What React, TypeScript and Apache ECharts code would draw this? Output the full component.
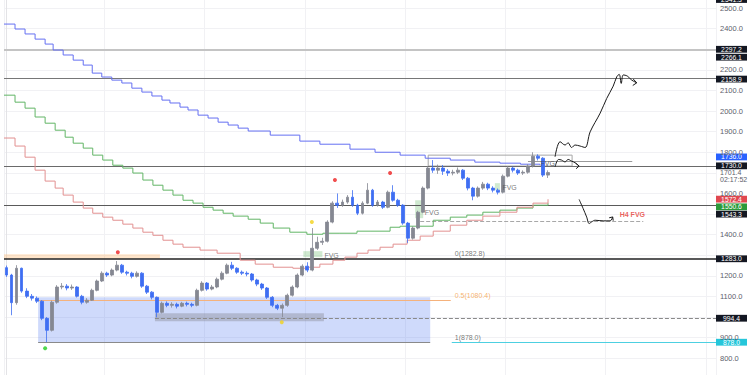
import React, { useEffect, useRef } from 'react';
import * as echarts from 'echarts';

// ---------- DATA ----------
// candles: [open, close, low, high]
const candles: number[][] = [
  [1240, 1204, 1195, 1250], [1204, 1070, 1009, 1210], [1070, 1237, 1060, 1252], [1237, 1126, 1118, 1240],
  [1126, 1101, 1092, 1140], [1101, 1092, 1080, 1112], [1092, 1077, 1068, 1100], [1077, 994, 985, 1082],
  [994, 936, 878, 1000], [936, 1072, 930, 1080], [1072, 1146, 1065, 1155], [1146, 1150, 1135, 1165],
  [1150, 1141, 1130, 1160], [1141, 1146, 1132, 1158], [1146, 1101, 1095, 1150], [1101, 1072, 1062, 1108],
  [1072, 1082, 1065, 1092], [1082, 1130, 1078, 1138], [1130, 1175, 1125, 1182], [1175, 1213, 1170, 1222],
  [1213, 1204, 1195, 1220], [1204, 1228, 1198, 1236], [1228, 1252, 1222, 1272], [1252, 1218, 1210, 1258],
  [1218, 1213, 1202, 1225], [1213, 1198, 1188, 1220], [1198, 1213, 1192, 1222], [1213, 1150, 1142, 1218],
  [1150, 1121, 1112, 1156], [1121, 1096, 1086, 1126], [1096, 1023, 999, 1100], [1023, 1067, 1018, 1075],
  [1067, 1057, 1048, 1076], [1057, 1062, 1046, 1072], [1062, 1053, 1042, 1070], [1053, 1067, 1048, 1074],
  [1067, 1062, 1052, 1075], [1062, 1057, 1048, 1070], [1057, 1130, 1052, 1138], [1130, 1165, 1124, 1174],
  [1165, 1136, 1128, 1170], [1136, 1146, 1130, 1156], [1146, 1184, 1140, 1192], [1184, 1213, 1178, 1222],
  [1213, 1252, 1208, 1260], [1252, 1237, 1228, 1268], [1237, 1218, 1210, 1242], [1218, 1213, 1204, 1226],
  [1213, 1209, 1198, 1222], [1209, 1180, 1172, 1214], [1180, 1160, 1150, 1186], [1160, 1141, 1132, 1166],
  [1141, 1096, 1088, 1146], [1096, 1057, 1048, 1102], [1057, 1043, 1034, 1064], [1043, 1057, 1000, 1066],
  [1057, 1106, 1050, 1114], [1106, 1146, 1100, 1154], [1146, 1204, 1140, 1212], [1204, 1247, 1198, 1256],
  [1247, 1228, 1218, 1266], [1228, 1334, 1222, 1432], [1334, 1363, 1326, 1390], [1363, 1368, 1350, 1385],
  [1368, 1461, 1362, 1470], [1461, 1553, 1455, 1562], [1553, 1543, 1530, 1600], [1543, 1558, 1535, 1570],
  [1558, 1582, 1550, 1592], [1582, 1543, 1535, 1616], [1543, 1504, 1495, 1550], [1504, 1553, 1498, 1562],
  [1553, 1616, 1548, 1650], [1616, 1543, 1535, 1622], [1543, 1558, 1536, 1568], [1558, 1533, 1525, 1564],
  [1533, 1606, 1528, 1614], [1606, 1567, 1560, 1640], [1567, 1543, 1535, 1574], [1543, 1456, 1448, 1548],
  [1456, 1383, 1360, 1462], [1383, 1432, 1376, 1440], [1432, 1509, 1426, 1516], [1509, 1626, 1504, 1634],
  [1626, 1723, 1620, 1732], [1723, 1713, 1700, 1762], [1713, 1723, 1695, 1740], [1723, 1708, 1690, 1738],
  [1708, 1699, 1685, 1718], [1699, 1703, 1688, 1715], [1703, 1713, 1694, 1726], [1713, 1674, 1665, 1718],
  [1674, 1626, 1615, 1680], [1626, 1587, 1567, 1632], [1587, 1626, 1580, 1634], [1626, 1645, 1618, 1656],
  [1645, 1626, 1616, 1652], [1626, 1616, 1605, 1635], [1616, 1606, 1595, 1624], [1606, 1684, 1600, 1692],
  [1684, 1723, 1678, 1732], [1723, 1713, 1702, 1730], [1713, 1699, 1690, 1720], [1699, 1703, 1690, 1712],
  [1703, 1733, 1696, 1742], [1733, 1781, 1726, 1800], [1781, 1771, 1760, 1790], [1771, 1689, 1680, 1776],
  [1689, 1701.4, 1675, 1712],
];

const TOTAL_SLOTS = 142;
const barSlots = Array.from({ length: TOTAL_SLOTS }, (_, i) => String(i));

// moving averages: [bar index, price]
const blueEma: number[][] = [
  [-0.5, 2422], [1.7, 2398], [3.7, 2374], [5.7, 2349], [7.7, 2325], [9.3, 2296], [11.3, 2272], [13.3, 2247],
  [15.3, 2223], [17.1, 2184], [19.0, 2165], [21.0, 2150], [23.0, 2136], [25.0, 2111], [27.0, 2092], [29.0, 2073],
  [31.0, 2053], [32.6, 2039], [34.6, 2019], [36.2, 2005], [38.2, 1980], [40.2, 1966], [42.2, 1946], [44.2, 1932],
  [46.2, 1917], [48.2, 1903], [52.6, 1883], [58.5, 1854], [62.5, 1839], [68.5, 1815], [73.5, 1800], [78.5, 1786],
  [83.5, 1771], [88.5, 1762], [93.4, 1752], [98.4, 1747], [102.5, 1742], [106.4, 1737],
];
const greenEma: number[][] = [
  [-0.5, 2077], [1.7, 2043], [3.7, 2014], [5.7, 1971], [7.7, 1941], [9.7, 1907], [11.7, 1873], [13.3, 1844],
  [15.3, 1820], [17.2, 1786], [19.2, 1762], [21.2, 1737], [23.2, 1723], [25.2, 1699], [27.2, 1665], [29.2, 1640],
  [31.2, 1616], [33.2, 1592], [35.2, 1567], [37.2, 1553], [39.2, 1533], [41.2, 1519], [43.2, 1504], [45.2, 1490],
  [48.2, 1475], [50.6, 1456], [53.2, 1432], [56.5, 1412], [59.9, 1402], [63.1, 1407], [66.5, 1407], [69.9, 1417],
  [72.5, 1417], [76.5, 1436], [78.5, 1441], [85.1, 1470], [88.5, 1485], [91.8, 1495], [95.0, 1509], [98.4, 1519],
  [101.8, 1529], [105.0, 1543], [108.0, 1553],
];
const redEma: number[][] = [
  [-0.5, 1869], [1.7, 1830], [3.7, 1776], [5.7, 1713], [7.7, 1660], [9.7, 1626], [11.3, 1592], [13.3, 1558],
  [15.3, 1529], [17.2, 1504], [19.2, 1485], [21.2, 1470], [23.2, 1451], [25.2, 1432], [27.2, 1412], [29.2, 1397],
  [31.2, 1373], [33.2, 1354], [35.2, 1339], [38.6, 1325], [42.0, 1310], [46.6, 1276], [49.6, 1257], [53.2, 1242],
  [57.1, 1237], [59.9, 1242], [62.5, 1257], [65.1, 1276], [67.5, 1291], [69.9, 1310], [72.1, 1325], [74.5, 1339],
  [77.1, 1354], [79.9, 1373], [82.5, 1393], [85.1, 1417], [88.5, 1446], [91.8, 1470], [95.0, 1490], [98.4, 1509],
  [101.8, 1533], [105.0, 1553], [108.0, 1572],
];

// full-width horizontal levels
const levelValues = [2297.2, 2158.9, 1730.0, 1543.3, 1283.0];
const levelColors = ['#c4c4c4', '#777777', '#6a6a6a', '#5a5a5a', '#222222'];
const levelWidths = [2, 1, 1, 1, 1.5];

// partial horizontal segments: [fromBar, toBar, price]
const segments: number[][] = [
  [29.6, 141.5, 994.4],
  [88.8, 141.5, 878.0],
  [6.3, 84.5, 878.0],
  [6.3, 88.6, 1080.4],
  [82.5, 127.0, 1465],
  [104.0, 124.8, 1758],
];
const segmentColors = ['#8a8a8a', '#4dd0e1', '#8a8a8a', '#f5b27c', '#a8a8a8', '#9a9a9a'];
const segmentTypes = ['dashed', 'solid', 'solid', 'solid', 'dashed', 'solid'];

// zones: [fromBar, toBar, lowPrice, highPrice]
const zones: number[][] = [
  [-0.5, 30.6, 1283, 1305],
  [6.3, 84.5, 878, 1096],
  [29.6, 63.3, 980, 1019],
  [59.2, 63.0, 1291, 1320],
  [81.5, 83.1, 1480, 1567],
  [97.4, 98.4, 1616, 1650],
  [84.1, 112.8, 1733, 1786],
];
const zoneFills = [
  'rgba(255,186,115,0.38)', 'rgba(96,134,242,0.30)', 'rgba(128,128,140,0.38)',
  'rgba(110,190,110,0.32)', 'rgba(110,190,110,0.32)', 'rgba(110,190,110,0.32)', 'rgba(0,0,0,0)',
];
const zoneBorders = ['none', 'none', 'none', 'none', 'none', 'none', '#a6a6a6'];

// signal dots: [bar, price]
const dots: number[][] = [[7.7, 849], [22.2, 1315], [54.9, 975], [60.9, 1461], [65.5, 1665], [76.5, 1699]];
const dotColors = ['#22cc22', '#ee2222', '#f2d21a', '#f2d21a', '#ee2222', '#ee2222'];

// annotations: [bar, price]
const noteTexts = ['FVG', 'FVG', 'FVG', 'FVG', 'H4 FVG', '0(1282.8)', '0.5(1080.4)', '1(878.0)'];
const notePos: number[][] = [
  [63.5, 1296], [83.5, 1504], [99.0, 1626], [106.6, 1742], [122.4, 1495], [89.5, 1305], [89.5, 1103], [89.5, 897],
];
const noteColors = ['#555', '#555', '#555', '#444', '#e53935', '#555', '#f5a04a', '#555'];

// hand-drawn projections
const upPath: number[][] = [
  [109.4, 1778], [110.4, 1851], [111.4, 1835], [112.0, 1846], [112.7, 1823], [113.4, 1835], [114.4, 1830],
  [115.4, 1823], [116.4, 1899], [118.4, 1990], [119.7, 2061], [121.0, 2121], [121.7, 2166], [122.2, 2178],
  [122.6, 2134], [123.0, 2175], [123.8, 2170], [124.7, 2150], [125.7, 2137],
];
const upHead: number[][] = [[125.0, 2155], [125.7, 2137], [124.9, 2124]];
const sidePath: number[][] = [
  [109.4, 1729], [110.1, 1765], [110.7, 1762], [111.4, 1753], [112.0, 1765], [112.7, 1757], [113.4, 1749], [114.2, 1733],
];
const sideHead: number[][] = [[113.5, 1747], [114.2, 1733], [113.6, 1720]];
const downPath: number[][] = [
  [114.2, 1571], [115.0, 1527], [115.7, 1486], [116.2, 1454], [116.7, 1462], [117.4, 1470], [119.0, 1467],
  [120.4, 1467], [120.9, 1486],
];
const downHead: number[][] = [[120.2, 1482], [120.9, 1486], [121.0, 1468]];

// right-hand price tags
const tagValues = [2541.3, 2297.2, 2266.1, 2158.9, 1736.0, 1730.0, 1572.4, 1550.6, 1543.3, 1283.0, 994.4, 878.0];
const tagColors = ['#131722', '#131722', '#131722', '#131722', '#2962ff', '#131722', '#e0474f', '#2b9a3a', '#131722', '#131722', '#131722', '#26c6da'];
const tagNudge = [0, -0.5, 1, 0.8, -8.5, -0.8, 0, 3.2, 9, 0, 0, 0];
const lastPrice = 1701.4;
const countdown = '02:17:52';

const yTicksHidden = [700, 1000, 1300, 1500, 1700, 2300, 2600];

const FONT = 'Liberation Sans, Arial, sans-serif';

function buildOption(): any {
  const lineSeries = (data: number[][], color: string, smooth: number | boolean, step?: string) => ({
    type: 'line',
    xAxisIndex: 1,
    yAxisIndex: 0,
    data,
    symbol: 'none',
    smooth,
    step,
    silent: true,
    z: 4,
    lineStyle: { color, width: 1 },
  });

  return {
    animation: false,
    backgroundColor: '#ffffff',
    grid: { left: 4, right: 34, top: -12.6, bottom: -3.9, containLabel: false, outerBoundsMode: 'none' },
    xAxis: [
      {
        type: 'category',
        data: barSlots,
        boundaryGap: true,
        axisLine: { show: false },
        axisTick: { show: false },
        axisLabel: { show: false },
        splitLine: { show: true, interval: 19, lineStyle: { color: '#f1f1f4', width: 1 } },
      },
      {
        type: 'value',
        min: -0.5,
        max: TOTAL_SLOTS - 0.5,
        show: false,
        splitLine: { show: false },
      },
    ],
    yAxis: {
      type: 'value',
      position: 'right',
      min: 700,
      max: 2600,
      interval: 100,
      axisLine: { show: true, lineStyle: { color: '#e3e3e6' } },
      axisTick: { show: false },
      splitLine: { show: true, lineStyle: { color: '#f1f1f4' } },
      axisLabel: {
        margin: 4,
        color: '#5d606b',
        fontSize: 7.5,
        fontFamily: FONT,
        formatter: (v: number) => (yTicksHidden.indexOf(v) >= 0 ? '' : v.toFixed(1)),
      },
    },
    series: [
      {
        type: 'line',
        xAxisIndex: 1,
        yAxisIndex: 0,
        data: [[0, 1000]],
        symbol: 'none',
        lineStyle: { opacity: 0 },
        silent: true,
        z: 1,
        markArea: {
          silent: true,
          z: 1,
          label: { show: false },
          data: zones.map((zn, i) => [
            {
              coord: [zn[0], zn[3]],
              itemStyle: {
                color: zoneFills[i],
                borderColor: zoneBorders[i] === 'none' ? 'transparent' : zoneBorders[i],
                borderWidth: zoneBorders[i] === 'none' ? 0 : 1,
              },
            },
            { coord: [zn[1], zn[2]] },
          ]),
        },
        markLine: {
          silent: true,
          symbol: ['none', 'none'],
          label: { show: false },
          z: 2,
          data: [
            ...levelValues.map((v, i) => ({
              yAxis: v,
              lineStyle: { color: levelColors[i], width: levelWidths[i], type: 'solid' },
            })),
            ...segments.map((s, i) => [
              { coord: [s[0], s[2]], lineStyle: { color: segmentColors[i], width: 1, type: segmentTypes[i] } },
              { coord: [s[1], s[2]] },
            ]),
          ],
        },
      },
      lineSeries(blueEma, '#6570f2', false, 'end'),
      lineSeries(greenEma, '#62b566', false, 'end'),
      lineSeries(redEma, '#e29090', false, 'end'),
      {
        type: 'candlestick',
        xAxisIndex: 0,
        yAxisIndex: 0,
        data: candles,
        barWidth: 3.4,
        z: 5,
        silent: true,
        itemStyle: {
          color: '#858892',
          color0: '#3f6ef2',
          borderColor: '#858892',
          borderColor0: '#3f6ef2',
          borderWidth: 0.8,
        },
      },
      {
        type: 'scatter',
        xAxisIndex: 1,
        yAxisIndex: 0,
        symbolSize: 4,
        silent: true,
        z: 6,
        data: dots.map((d, i) => ({ value: d, itemStyle: { color: dotColors[i] } })),
      },
      {
        type: 'scatter',
        xAxisIndex: 1,
        yAxisIndex: 0,
        symbolSize: 1,
        silent: true,
        z: 7,
        itemStyle: { color: 'rgba(0,0,0,0)' },
        data: notePos.map((p, i) => ({
          value: p,
          label: {
            show: true,
            position: [0, 0],
            align: 'left',
            verticalAlign: 'middle',
            formatter: noteTexts[i],
            color: noteColors[i],
            fontSize: 7,
            fontFamily: FONT,
            fontWeight: noteTexts[i] === 'H4 FVG' ? 'bold' : 'normal',
          },
        })),
      },
      ...[upPath, sidePath, downPath].map((p) => lineSeries(p, '#1a1a1a', 0.35)),
      ...[upHead, sideHead, downHead].map((p) => lineSeries(p, '#1a1a1a', false)),
    ],
  };
}

export default function App() {
  const ref = useRef<HTMLDivElement>(null);
  useEffect(() => {
    const el = ref.current;
    if (!el) return;
    const chart = echarts.init(el, undefined, { renderer: 'svg' });
    chart.setOption(buildOption());

    const boxX = 716;
    const boxW = 31;
    const boxH = 6.8;
    const graphics: any[] = tagValues.map((v, i) => {
      const y = (chart.convertToPixel({ yAxisIndex: 0 } as any, v) as number) + tagNudge[i];
      return {
        type: 'group',
        x: boxX,
        y,
        z: 100,
        children: [
          { type: 'rect', shape: { x: 0, y: -boxH / 2, width: boxW, height: boxH }, style: { fill: tagColors[i] } },
          {
            type: 'text',
            x: boxW / 2,
            y: 0,
            style: {
              text: v.toFixed(1),
              fill: '#ffffff',
              fontSize: 6.8,
              fontFamily: FONT,
              align: 'center',
              verticalAlign: 'middle',
            },
          },
        ],
      };
    });
    const yLast = chart.convertToPixel({ yAxisIndex: 0 } as any, lastPrice) as number;
    graphics.push({
      type: 'group',
      x: 720,
      y: yLast,
      z: 100,
      children: [
        { type: 'text', x: 0, y: 0, style: { text: lastPrice.toFixed(1), fill: '#5d606b', fontSize: 7, fontFamily: FONT, align: 'left', verticalAlign: 'middle' } },
        { type: 'text', x: 0, y: 7, style: { text: countdown, fill: '#5d606b', fontSize: 7, fontFamily: FONT, align: 'left', verticalAlign: 'middle' } },
      ],
    });
    chart.setOption({ graphic: graphics });

    return () => chart.dispose();
  }, []);
  return (
    <div
      ref={ref}
      style={{ position: 'fixed', left: 0, top: 0, width: 750, height: 375, background: '#ffffff' }}
    />
  );
}
